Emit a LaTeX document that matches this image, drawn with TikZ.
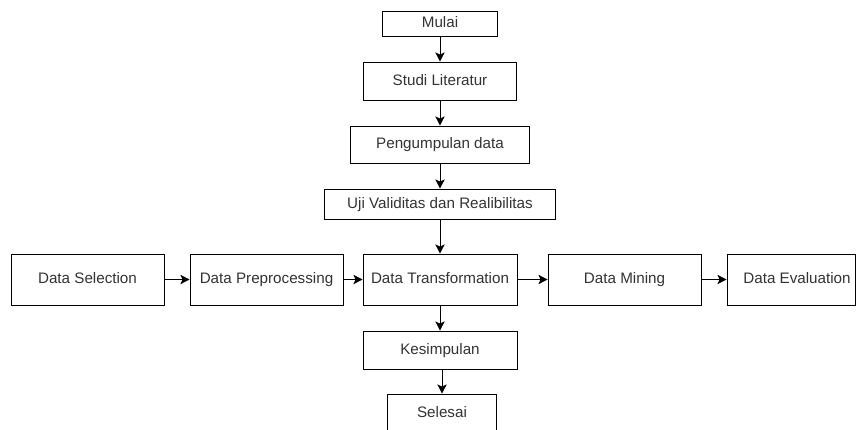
\documentclass[tikz,border=0pt]{standalone}
\usepackage{fontspec}
\setmainfont{Liberation Sans}
\usetikzlibrary{arrows.meta}
\begin{document}
\begin{tikzpicture}[x=0.75pt,y=-0.75pt,
  box/.style 2 args={draw=black, line width=0.75pt, inner sep=0pt,
    minimum width=#1*0.75pt, minimum height=#2*0.75pt,
    text height=8.4pt, text depth=2.4pt,
    font=\fontsize{11.4pt}{13pt}\selectfont, text=black!80},
  arr/.style={draw=black, line width=0.75pt,
    -{Stealth[length=6.8pt,width=7pt,inset=1.6pt]}}]
\clip (0,0) rectangle (856,429);
\fill[white] (0,0) rectangle (856,429);
\node[box={115}{25}] (mulai) at (440,23.5) {Mulai};
\node[box={153}{38}] (studi) at (440,81) {Studi Literatur};
\node[box={179}{37}] (peng) at (440,144.5) {Pengumpulan data};
\node[box={231}{30}] (uji) at (440,204) {Uji Validitas dan Realibilitas};
\node[box={153}{51}] (sel) at (87.5,279.5) {Data Selection};
\node[box={153}{51}] (pre) at (266.5,279.5) {Data Preprocessing};
\node[box={154}{51}] (trans) at (440,279.5) {Data Transformation};
\node[box={153}{51}] (min) at (624.5,279.5) {Data Mining};
\node[box={128}{51}] (eval) at (791,279.5) {\hspace*{9pt}Data Evaluation};
\node[box={154}{38}] (kes) at (440,350) {Kesimpulan};
\node[box={109}{38}] (sls) at (442,413) {Selesai};
\draw[arr] (mulai) -- (studi);
\draw[arr] (studi) -- (peng);
\draw[arr] (peng) -- (uji);
\draw[arr] (uji) -- (trans);
\draw[arr] (sel) -- (pre);
\draw[arr] (pre) -- (trans);
\draw[arr] (trans) -- (min);
\draw[arr] (min) -- (eval);
\draw[arr] (trans) -- (kes);
\draw[arr] (kes.south -| sls.north) -- (sls);
\end{tikzpicture}
\end{document}
